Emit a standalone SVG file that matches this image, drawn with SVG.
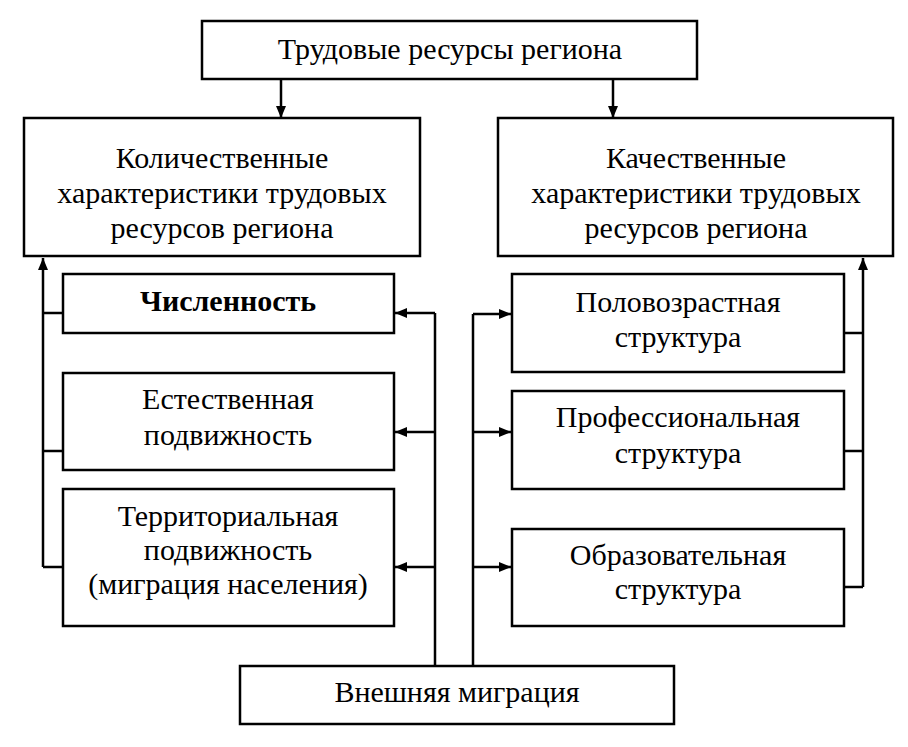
<svg xmlns="http://www.w3.org/2000/svg" width="908" height="747" viewBox="0 0 908 747">
<defs>
<marker id="ah" viewBox="0 0 12 10" refX="12" refY="5" markerWidth="12" markerHeight="10" markerUnits="userSpaceOnUse" orient="auto">
<path d="M0,0 L12,5 L0,10 z" fill="#000"/>
</marker>
</defs>
<rect x="0" y="0" width="908" height="747" fill="#fff"/>
<g id="connectors" fill="none" stroke="#000" stroke-width="2.5">
<path marker-end="url(#ah)" d="M281,79 L281,118"/>
<path marker-end="url(#ah)" d="M613,79 L613,118"/>
<path marker-end="url(#ah)" d="M43,567 L43,258"/>
<path d="M43,313 L63,313 M43,451 L63,451 M43,567 L63,567"/>
<path d="M435,666 L435,313"/>
<path marker-end="url(#ah)" d="M435,313 L395,313"/>
<path marker-end="url(#ah)" d="M435,432 L395,432"/>
<path marker-end="url(#ah)" d="M435,567 L395,567"/>
<path d="M473,666 L473,314"/>
<path marker-end="url(#ah)" d="M473,314 L511,314"/>
<path marker-end="url(#ah)" d="M473,432 L511,432"/>
<path marker-end="url(#ah)" d="M473,567 L511,567"/>
<path marker-end="url(#ah)" d="M863,587 L863,258"/>
<path d="M844,333 L863,333 M844,451 L863,451 M844,587 L863,587"/>
</g>
<g id="n-top"><rect x="202" y="21" width="495" height="58" fill="#fff" stroke="#000" stroke-width="2.5"/><text x="450" y="59" text-anchor="middle" font-family="Liberation Serif" font-size="30">Трудовые ресурсы региона</text></g>
<g id="n-quant"><rect x="24" y="118" width="396" height="138" fill="#fff" stroke="#000" stroke-width="2.5"/>
<text x="222" y="168" text-anchor="middle" font-family="Liberation Serif" font-size="30">Количественные</text><text x="222" y="203" text-anchor="middle" font-family="Liberation Serif" font-size="30">характеристики трудовых</text><text x="222" y="238" text-anchor="middle" font-family="Liberation Serif" font-size="30">ресурсов региона</text></g>
<g id="n-qual"><rect x="498" y="118" width="395" height="138" fill="#fff" stroke="#000" stroke-width="2.5"/>
<text x="696" y="168" text-anchor="middle" font-family="Liberation Serif" font-size="30">Качественные</text><text x="696" y="203" text-anchor="middle" font-family="Liberation Serif" font-size="30">характеристики трудовых</text><text x="696" y="238" text-anchor="middle" font-family="Liberation Serif" font-size="30">ресурсов региона</text></g>
<g id="n-num"><rect x="63" y="274" width="331" height="59" fill="#fff" stroke="#000" stroke-width="2.5"/><text x="228" y="311" text-anchor="middle" font-family="Liberation Serif" font-size="30" font-weight="bold">Численность</text></g>
<g id="n-nat"><rect x="63" y="373" width="331" height="97" fill="#fff" stroke="#000" stroke-width="2.5"/><text x="228" y="409" text-anchor="middle" font-family="Liberation Serif" font-size="30">Естественная</text><text x="228" y="445" text-anchor="middle" font-family="Liberation Serif" font-size="30">подвижность</text></g>
<g id="n-terr"><rect x="63" y="489" width="331" height="137" fill="#fff" stroke="#000" stroke-width="2.5"/><text x="228" y="526" text-anchor="middle" font-family="Liberation Serif" font-size="30">Территориальная</text><text x="228" y="560" text-anchor="middle" font-family="Liberation Serif" font-size="30">подвижность</text><text x="228" y="594" text-anchor="middle" font-family="Liberation Serif" font-size="30">(миграция населения)</text></g>
<g id="n-sex"><rect x="512" y="274" width="332" height="98" fill="#fff" stroke="#000" stroke-width="2.5"/><text x="678" y="312" text-anchor="middle" font-family="Liberation Serif" font-size="30">Половозрастная</text><text x="678" y="347" text-anchor="middle" font-family="Liberation Serif" font-size="30">структура</text></g>
<g id="n-prof"><rect x="512" y="391" width="332" height="98" fill="#fff" stroke="#000" stroke-width="2.5"/><text x="678" y="427" text-anchor="middle" font-family="Liberation Serif" font-size="30">Профессиональная</text><text x="678" y="463" text-anchor="middle" font-family="Liberation Serif" font-size="30">структура</text></g>
<g id="n-edu"><rect x="512" y="529" width="332" height="97" fill="#fff" stroke="#000" stroke-width="2.5"/><text x="678" y="565" text-anchor="middle" font-family="Liberation Serif" font-size="30">Образовательная</text><text x="678" y="599" text-anchor="middle" font-family="Liberation Serif" font-size="30">структура</text></g>
<g id="n-ext"><rect x="240" y="666" width="434" height="58" fill="#fff" stroke="#000" stroke-width="2.5"/><text x="457" y="702" text-anchor="middle" font-family="Liberation Serif" font-size="30">Внешняя миграция</text></g>
</svg>
